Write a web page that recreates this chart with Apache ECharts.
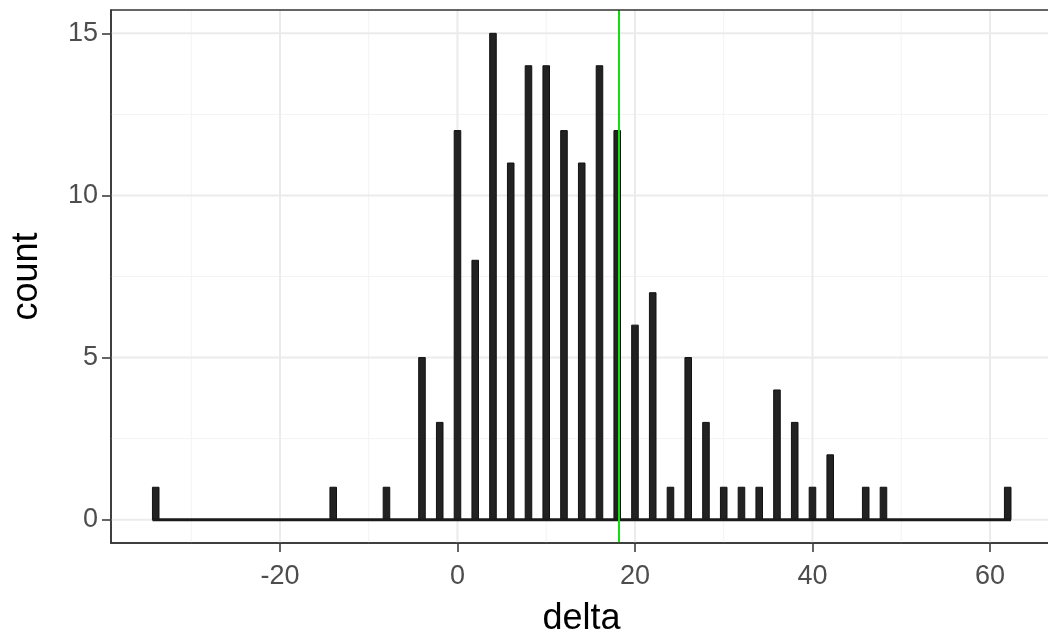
<!DOCTYPE html>
<html>
<head>
<meta charset="utf-8">
<script src="https://cdn.jsdelivr.net/npm/echarts@6/dist/echarts.min.js"></script>
<style>html,body{margin:0;padding:0;background:#fff}#c{width:1048px;height:637px}</style>
</head>
<body>
<div id="c"></div>
<script>
// ---- data ----
const deltaValues = [-34, -14, -8, -4, -2, 0, 2, 4, 6, 8, 10, 12, 14, 16, 18, 20, 22, 24, 26, 28, 30, 32, 34, 36, 38, 40, 42, 46, 48, 62];
const counts      = [  1,   1,  1,  5,  3, 12, 8, 15, 11, 14, 14, 12, 11, 14, 12, 6, 7, 1, 5, 3, 1, 1, 1, 4, 3, 1, 2, 1, 1, 1];
const referenceDelta = 18.2;
const xTicks = [-20, 0, 20, 40, 60];
const xMinorGrid = [-30, -10, 10, 30, 50];
const yTicks = [0, 5, 10, 15];
const yMinorGrid = [2.5, 7.5, 12.5];
const xTitle = 'delta';
const yTitle = 'count';

const binHalf = 0.37;
const FONT = "'Liberation Sans', Arial, sans-serif";

const barData = deltaValues.map((d, i) => [d, counts[i]]);
const baseline = [[Math.min(...deltaValues) - binHalf, 0], [Math.max(...deltaValues) + binHalf, 0]];

function vLine(color, width) {
  return function (params, api) {
    const cs = params.coordSys;
    const x = api.coord([api.value(0), 0])[0];
    return { type: 'line', shape: { x1: x, y1: cs.y, x2: x, y2: cs.y + cs.height },
             style: { stroke: color, lineWidth: width } };
  };
}
function hLine(color, width) {
  return function (params, api) {
    const cs = params.coordSys;
    const y = api.coord([0, api.value(1)])[1];
    return { type: 'line', shape: { x1: cs.x, y1: y, x2: cs.x + cs.width, y2: y },
             style: { stroke: color, lineWidth: width } };
  };
}

const chart = echarts.init(document.getElementById('c'), null, { renderer: 'canvas' });
chart.setOption({
  animation: false,
  backgroundColor: '#ffffff',
  grid: { left: 111, top: 10, width: 941, height: 533, outerBoundsMode: 'none', containLabel: false,
          show: true, borderColor: '#333333', borderWidth: 1.5, backgroundColor: 'transparent', z: 10 },
  xAxis: {
    type: 'value', min: -39.04, max: 66.99,
    name: xTitle, nameLocation: 'middle', nameGap: 58,
    nameTextStyle: { fontFamily: FONT, fontSize: 36, color: '#000' },
    axisLine: { show: true, onZero: false, lineStyle: { color: '#333', width: 1.5 } },
    splitLine: { show: false },
    axisTick: { show: true, customValues: xTicks, length: 9, lineStyle: { color: '#333', width: 1.5 } },
    axisLabel: { customValues: xTicks, margin: 20, fontFamily: FONT, fontSize: 27, color: '#4d4d4d' }
  },
  yAxis: {
    type: 'value', min: -0.72, max: 15.72,
    name: yTitle, nameLocation: 'middle', nameGap: 66, nameRotate: 90,
    nameTextStyle: { fontFamily: FONT, fontSize: 36, color: '#000' },
    axisLine: { show: true, onZero: false, lineStyle: { color: '#333', width: 1.5 } },
    splitLine: { show: false },
    axisTick: { show: true, customValues: yTicks, length: 9, lineStyle: { color: '#333', width: 1.5 } },
    axisLabel: { customValues: yTicks, margin: 13, fontFamily: FONT, fontSize: 27, color: '#4d4d4d' }
  },
  series: [
    { type: 'custom', silent: true, z: 1, renderItem: vLine('#f3f3f3', 1), data: xMinorGrid.map(v => [v, 0]) },
    { type: 'custom', silent: true, z: 1, renderItem: hLine('#f3f3f3', 1), data: yMinorGrid.map(v => [0, v]) },
    { type: 'custom', silent: true, z: 2, renderItem: vLine('#ebebeb', 2), data: xTicks.map(v => [v, 0]) },
    { type: 'custom', silent: true, z: 2, renderItem: hLine('#ebebeb', 2), data: yTicks.map(v => [0, v]) },
    {
      type: 'custom', z: 5,
      renderItem: function (params, api) {
        const x = api.value(0), c = api.value(1);
        const p0 = api.coord([x - binHalf, c]);
        const p1 = api.coord([x + binHalf, 0]);
        return { type: 'rect', shape: { x: p0[0], y: p0[1], width: p1[0] - p0[0], height: p1[1] - p0[1] },
                 style: { fill: '#222222', stroke: '#111111', lineWidth: 1 } };
      },
      data: barData
    },
    { type: 'line', z: 6, symbol: 'none', silent: true, data: baseline, lineStyle: { color: '#1a1a1a', width: 3 } },
    { type: 'custom', silent: true, z: 7, renderItem: vLine('#11dd11', 2), data: [[referenceDelta, 0]] }
  ]
});
</script>
</body>
</html>
